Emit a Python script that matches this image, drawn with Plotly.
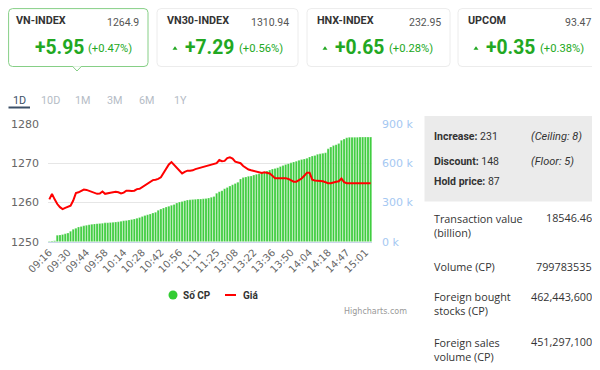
import plotly.graph_objects as go

# ---------------- data ----------------
times = [
    "09:16", "09:18", "09:20", "09:22", "09:24", "09:26", "09:28",
    "09:30", "09:32", "09:34", "09:36", "09:38", "09:40", "09:42",
    "09:44", "09:46", "09:48", "09:50", "09:52", "09:54", "09:56",
    "09:58", "10:00", "10:02", "10:04", "10:07", "10:09", "10:11",
    "10:14", "10:16", "10:18", "10:20", "10:22", "10:24", "10:26",
    "10:28", "10:30", "10:32", "10:34", "10:36", "10:38", "10:40",
    "10:42", "10:44", "10:46", "10:48", "10:50", "10:52", "10:54",
    "10:56", "10:58", "11:00", "11:02", "11:04", "11:06", "11:09",
    "11:11", "11:13", "11:15", "11:17", "11:19", "11:21", "11:23",
    "11:25", "11:27", "11:29", "13:00", "13:02", "13:04", "13:06",
    "13:08", "13:10", "13:12", "13:14", "13:16", "13:18", "13:20",
    "13:22", "13:24", "13:26", "13:28", "13:30", "13:32", "13:34",
    "13:36", "13:38", "13:40", "13:42", "13:44", "13:46", "13:48",
    "13:50", "13:52", "13:54", "13:56", "13:58", "14:00", "14:02",
    "14:04", "14:06", "14:08", "14:10", "14:12", "14:14", "14:16",
    "14:18", "14:20", "14:22", "14:24", "14:26", "14:28", "14:45",
    "14:47", "14:49", "14:51", "14:53", "14:55", "14:57", "14:59",
    "15:01", "15:03", "15:05",
]

volume_k = [
    3, 6, 8, 50, 52, 55, 60, 66, 80, 95,
    103, 112, 117, 122, 126, 130, 133, 136, 138, 140,
    142, 144, 145, 147, 148, 150, 152, 156, 160, 163,
    166, 170, 174, 180, 186, 192, 200, 206, 212, 220,
    226, 240, 250, 258, 265, 272, 278, 285, 296, 303,
    308, 314, 318, 320, 322, 324, 326, 327, 328, 330,
    334, 340, 346, 370, 382, 390, 405, 415, 425, 435,
    445, 455, 480, 490, 495, 500, 503, 510, 515, 520,
    525, 530, 540, 548, 555, 560, 566, 575, 582, 590,
    597, 603, 610, 616, 622, 628, 633, 638, 648, 655,
    660, 668, 672, 676, 680, 710, 725, 735, 742, 750,
    775, 785, 795, 798, 798, 799, 799, 800, 800, 800,
    800, 800,
]

price = [
    1260.8, 1262.2, 1260.8, 1259.6, 1258.8, 1258.3, 1258.6, 1258.9, 1259.2, 1260.5,
    1262.4, 1262.6, 1263.0, 1263.3, 1263.2, 1262.9, 1262.8, 1262.3, 1262.2, 1262.3,
    1262.8, 1262.2, 1262.4, 1262.5, 1262.6, 1262.7, 1262.6, 1262.3, 1262.5, 1263.0,
    1263.0, 1262.9, 1263.0, 1263.4, 1263.5, 1263.9, 1264.3, 1264.8, 1265.2, 1265.7,
    1265.8, 1266.0, 1266.4, 1267.5, 1268.7, 1269.7, 1270.3, 1269.5, 1268.7, 1268.0,
    1267.4, 1267.8, 1268.1, 1268.1, 1268.2, 1268.5, 1268.7, 1268.9, 1269.1, 1269.3,
    1269.5, 1269.7, 1269.9, 1270.0, 1270.8, 1270.5, 1270.6, 1271.3, 1271.5, 1271.2,
    1270.4, 1270.2, 1270.0, 1269.3, 1268.8, 1268.4, 1268.2, 1268.0, 1267.8, 1267.5,
    1267.5, 1267.7, 1267.6, 1267.4, 1266.8, 1266.2, 1266.2, 1266.2, 1266.3, 1266.2,
    1266.0, 1265.6, 1265.3, 1265.3, 1265.7, 1266.1, 1266.8, 1267.6, 1267.6, 1265.8,
    1265.6, 1265.6, 1265.5, 1265.4, 1265.1, 1264.9, 1264.9, 1265.2, 1265.3, 1265.4,
    1266.1, 1265.2, 1264.9, 1264.9, 1264.9, 1264.9, 1264.9, 1264.9, 1264.9, 1264.9,
    1264.9, 1264.9,
]

tick_labels = times[::7]
price_ticks = [1250, 1260, 1270, 1280]
volume_ticks = [0, 300, 600, 900]

cards = [
    # name, value, change, pct
    ("VN-INDEX", "1264.9", "+5.95", "(+0.47%)"),
    ("VN30-INDEX", "1310.94", "+7.29", "(+0.56%)"),
    ("HNX-INDEX", "232.95", "+0.65", "(+0.28%)"),
    ("UPCOM", "93.47", "+0.35", "(+0.38%)"),
]
tabs = ["1D", "10D", "1M", "3M", "6M", "1Y"]
breadth = [("Increase:", "231", "(Ceiling: 8)"),
           ("Discount:", "148", "(Floor: 5)"),
           ("Hold price:", "87", "")]
stats = [("Transaction value<br>(billion)", "18546.46"),
         ("Volume (CP)", "799783535"),
         ("Foreign bought<br>stocks (CP)", "462,443,600"),
         ("Foreign sales<br>volume (CP)", "451,297,100")]

# ---------------- helpers ----------------
# the page body has an 8px margin, so the figure is drawn at (8, 8) of the window
OFF = 8
W, H = 600 - OFF, 370 - OFF


def px(x):
    return (x - OFF) / W


def py(y):
    return 1 - (y - OFF) / H


shapes = []
annotations = []


def rrect(x0, y0, x1, y1, r, line, fill="white", width=1):
    p = (f"M {px(x0 + r)},{py(y0)} L {px(x1 - r)},{py(y0)} "
         f"Q {px(x1)},{py(y0)} {px(x1)},{py(y0 + r)} "
         f"L {px(x1)},{py(y1 - r)} Q {px(x1)},{py(y1)} {px(x1 - r)},{py(y1)} "
         f"L {px(x0 + r)},{py(y1)} Q {px(x0)},{py(y1)} {px(x0)},{py(y1 - r)} "
         f"L {px(x0)},{py(y0 + r)} Q {px(x0)},{py(y0)} {px(x0 + r)},{py(y0)} Z")
    shapes.append(dict(type="path", xref="paper", yref="paper", path=p,
                       line=dict(color=line, width=width), fillcolor=fill, layer="below"))


def txt(x, y, s, size, color, anchor="left", family="Roboto", yanchor="middle"):
    annotations.append(dict(x=px(x), y=py(y), xref="paper", yref="paper", text=s,
                            showarrow=False, xanchor=anchor, yanchor=yanchor,
                            align=anchor if anchor != "center" else "center",
                            borderpad=0,
                            font=dict(size=size, color=color, family=family)))


def tri(cx, cy, w, h, color):
    p = (f"M {px(cx - w / 2)},{py(cy + h / 2)} L {px(cx + w / 2)},{py(cy + h / 2)} "
         f"L {px(cx)},{py(cy - h / 2)} Z")
    shapes.append(dict(type="path", xref="paper", yref="paper", path=p,
                       line=dict(color=color, width=0), fillcolor=color))


GREEN = "#22a822"
DARK = "#333333"

# ---------------- cards ----------------
card_x = [(8.6, 148), (157, 298), (307, 450), (458, 606)]
for k, ((x0, x1), (name, val, chg, pct)) in enumerate(zip(card_x, cards)):
    rrect(x0, 4.5 if False else 8.6, x1, 66.5, 4, "#86cf86" if k == 0 else "#ececec")
    txt(max(x0, 6) + 9 if k else 15, 21, f"<b>{name}</b>", 10.8, DARK)
    txt(min(x1 - 8, 592), 22, val, 10.5, "#555555", anchor="right")
    if k == 0:
        txt(34, 47.5, f"<b>{chg}</b>", 19.3, GREEN)
        txt(87, 48.5, pct, 11.2, GREEN)
    else:
        tri(x0 + 18, 48, 5, 3.5, GREEN)
        txt(x0 + 27, 47.5, f"<b>{chg}</b>", 19.3, GREEN)
        txt(x0 + 81, 48.5, pct, 11.2, GREEN)

# pointer below first card
shapes.append(dict(type="path", xref="paper", yref="paper",
                   path=f"M {px(72.5)},{py(66.3)} L {px(77)},{py(71)} L {px(81.5)},{py(66.3)}",
                   line=dict(color="#86cf86", width=1), fillcolor="white"))

# ---------------- tabs ----------------
tab_x = [12, 40, 74, 106, 138, 173]
for t, x in zip(tabs, tab_x):
    txt(x, 101, t, 10.8, "#3b4f66" if t == "1D" else "#b5bcc6")
shapes.append(dict(type="line", xref="paper", yref="paper",
                   x0=px(8.5), x1=px(30), y0=py(107.5), y1=py(107.5),
                   line=dict(color="#3b4f66", width=2)))

# ---------------- legend / credit ----------------
shapes.append(dict(type="circle", xref="paper", yref="paper",
                   x0=px(168.5), x1=px(177.5), y0=py(299.5), y1=py(290.5),
                   fillcolor="#33cc33", line=dict(width=0)))
txt(182.5, 295, "<b>Số CP</b>", 10, DARK)
shapes.append(dict(type="line", xref="paper", yref="paper",
                   x0=px(225), x1=px(236), y0=py(295), y1=py(295),
                   line=dict(color="#ff0000", width=2)))
txt(242, 295, "<b>Giá</b>", 10, DARK)
txt(408, 311.5, "Highcharts.com", 8, "#999999", anchor="right", family="DejaVu Sans")

# ---------------- side panel ----------------
shapes.append(dict(type="rect", xref="paper", yref="paper",
                   x0=px(424.5), x1=px(600), y0=py(201.5), y1=py(116),
                   fillcolor="#ebebeb", line=dict(width=0), layer="below"))
by = [136.5, 161.5, 181.5]
for (lab, num, note), y in zip(breadth, by):
    txt(433, y, f"<b>{lab}</b> {num}", 10.5, DARK)
    if note:
        txt(530, y, f"<i>{note}</i>", 11, DARK)

stat_y = [225, 266.5, 303.5, 349]
val_y = [217.5, 266.5, 296.5, 341.5]
for (lab, v), y, vy in zip(stats, stat_y, val_y):
    txt(433, y, lab, 10.8, DARK, family="Open Sans")
    txt(593, vy, v, 10.8, DARK, anchor="right", family="Open Sans")

# ---------------- chart ----------------
fig = go.Figure()
fig.add_trace(go.Bar(x=times, y=volume_k, yaxis="y", name="Số CP",
                     marker=dict(color="#3dcc3d",
                                 line=dict(color="rgba(255,255,255,0.55)", width=0.5)),
                     showlegend=False))
fig.add_trace(go.Scatter(x=times, y=price, yaxis="y2", name="Giá", mode="lines",
                         line=dict(color="#ff0000", width=2), showlegend=False))

y_top, y_bot = 124, 241.7
fig.update_layout(
    width=W, height=H,
    margin=dict(l=0, r=0, t=0, b=0, autoexpand=False),
    paper_bgcolor="white", plot_bgcolor="white",
    bargap=0.18,
    font=dict(family="DejaVu Sans", size=11, color="#666666"),
    xaxis=dict(type="category", domain=[px(48), px(372)], automargin=False,
               tickmode="array", tickvals=tick_labels, ticktext=tick_labels,
               tickangle=-45, tickfont=dict(size=10, color="#666666"),
               showgrid=False, showline=True, linecolor="#ccd6eb",
               ticks="", range=[-0.5, len(times) - 0.5], anchor="y"),
    # volume axis (base, right side) carries the grid
    yaxis=dict(domain=[py(y_bot), py(y_top)], range=[0, 900], side="right",
               tickvals=volume_ticks, ticktext=[f"{v} k" for v in volume_ticks],
               showgrid=True, gridcolor="#e6e6e6", zeroline=False, automargin=False,
               tickfont=dict(size=11, color="#a5c8f2"), ticklabelstandoff=9),
    # price axis (left side), overlaid so the line sits above the bars
    yaxis2=dict(overlaying="y", side="left", range=[1250, 1280],
                tickvals=price_ticks, showgrid=False, zeroline=False, automargin=False,
                tickfont=dict(size=11, color="#666666"), ticklabelstandoff=8),
    shapes=shapes,
    annotations=annotations,
)

fig.write_html("out.html")
